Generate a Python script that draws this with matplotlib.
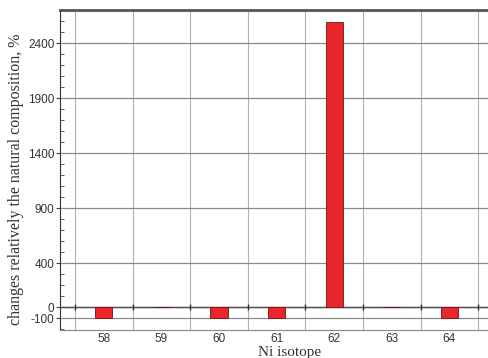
import matplotlib.pyplot as plt
import numpy as np

plt.rcParams['axes.unicode_minus'] = False

# Ni isotopes and the change of each one against natural abundance, %
isotopes = [58, 59, 60, 61, 62, 63, 64]
changes = [-100, 0, -100, -100, 2590, 0, -100]
yticks = [-100, 0, 400, 900, 1400, 1900, 2400]

fig = plt.figure(figsize=(4.88, 3.58), dpi=100)
ax = fig.add_axes([60 / 488, 28 / 358, 428 / 488, 320 / 358])

x = np.array(isotopes, dtype=float)
ax.bar(x, changes, width=0.3, color='#e8252b', edgecolor='#7a1010',
       linewidth=0.6, zorder=3)

ax.set_xlim(57.24, 64.67)
ax.set_ylim(-209, 2700)

# grid between the isotopes, ticks on the isotopes
edges = np.append(x - 0.5, x[-1] + 0.5)
ax.set_xticks(x)
ax.set_xticks(edges, minor=True)
ax.set_yticks(yticks)
ax.set_yticks(np.arange(-200, 2701, 100), minor=True)
ax.grid(which='minor', axis='x', color='#b0b0b0', lw=0.8, zorder=0)
ax.grid(which='major', axis='y', color='#8a8a8a', lw=0.9, zorder=0)

# zero line with small marks where the grid crosses it
ax.axhline(0, color='#505050', lw=1.0, zorder=2)
ax.plot(edges, np.zeros_like(edges), ls='none', marker='|', ms=5,
        mew=1.0, color='#303030', zorder=2, clip_on=False)

ax.tick_params(axis='x', which='both', length=0, pad=2)
ax.tick_params(axis='y', which='major', direction='out', length=3,
               color='#404040', pad=1)
ax.tick_params(axis='y', which='minor', direction='in', length=3,
               color='#404040')
for lab in ax.get_xticklabels() + ax.get_yticklabels():
    lab.set_family('Liberation Sans')
    lab.set_fontsize(8.5)
    lab.set_color('#333333')

ax.spines['right'].set_visible(False)
ax.spines['top'].set_linewidth(2.0)
ax.spines['top'].set_color('#555555')
ax.spines['left'].set_color('#333333')
ax.spines['bottom'].set_color('#888888')

ax.set_xlabel('Ni isotope', family='Liberation Serif', fontsize=11,
              color='#333333', va='baseline')
ax.xaxis.set_label_coords((290 - 60) / 428, (330 - 356) / 320)
ax.set_ylabel('changes relatively the natural composition, %',
              family='Liberation Serif', fontsize=11.5, color='#333333',
              va='center')
ax.yaxis.set_label_coords((16 - 60) / 428, (330 - 179) / 320)

fig.savefig('out.png', dpi=100)
